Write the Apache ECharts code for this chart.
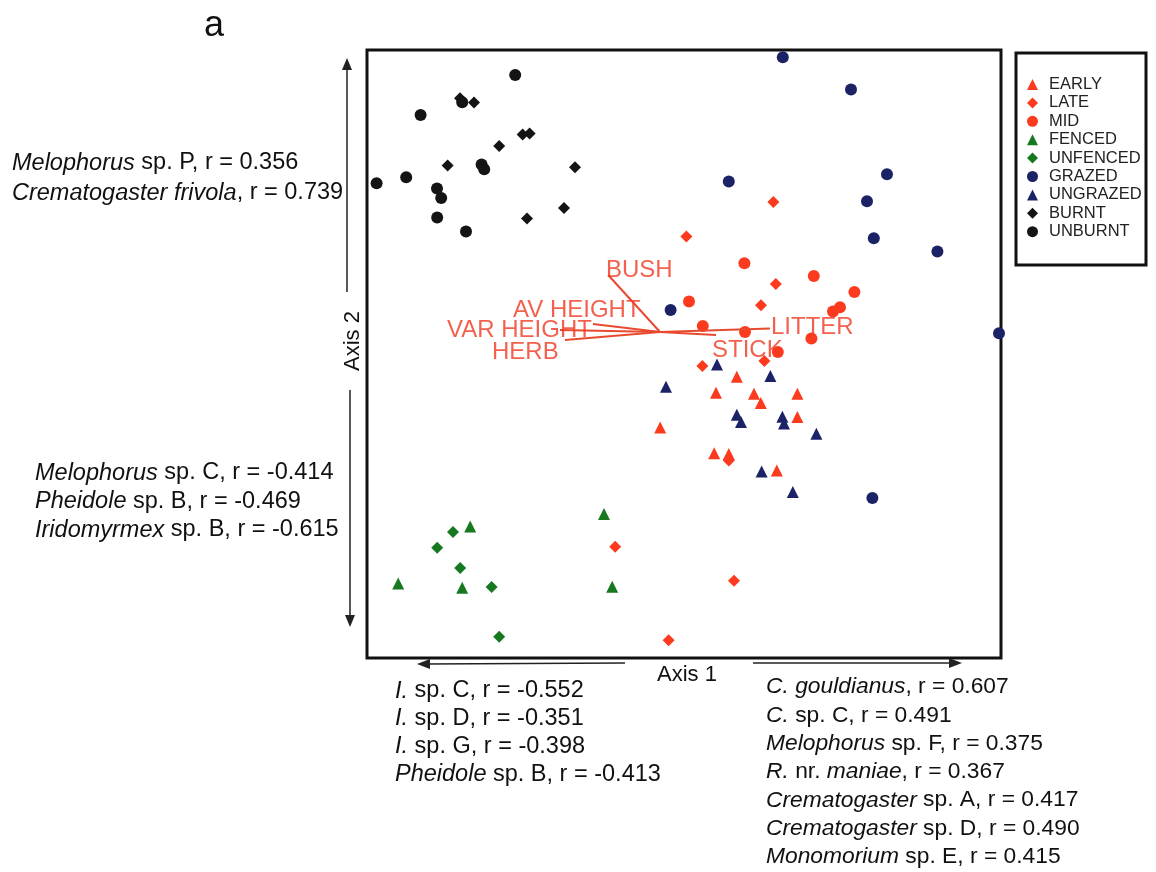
<!DOCTYPE html>
<html>
<head>
<meta charset="utf-8">
<script src="https://cdn.jsdelivr.net/npm/echarts@6/dist/echarts.min.js"></script>
<style>
html,body{margin:0;padding:0;background:#fff;}
#chart{width:1156px;height:872px;}
</style>
</head>
<body>
<div id="chart"></div>
<script>
// ---- group names (legend order) ----
const groupNames = ['EARLY','LATE','MID','FENCED','UNFENCED','GRAZED','UNGRAZED','BURNT','UNBURNT'];

// ---- ordination scores [Axis 1, Axis 2] ----
const earlyPts = [[0.264,-0.114],[0.160,-0.194],[0.350,-0.199],[0.384,-0.245],[0.567,-0.199],[0.567,-0.315],[-0.119,-0.367],[0.151,-0.496],[0.464,-0.582],[0.224,-0.500]];
const latePts = [[0.447,0.760],[0.012,0.587],[0.459,0.350],[0.385,0.244],[0.402,-0.035],[0.092,-0.060],[0.224,-0.533],[-0.344,-0.964],[0.250,-1.134],[-0.077,-1.431]];
const midPts = [[0.302,0.454],[0.649,0.390],[0.852,0.310],[0.025,0.262],[0.745,0.212],[0.780,0.234],[0.094,0.140],[0.305,0.110],[0.637,0.077],[0.469,0.010]];
const fencedPts = [[-0.400,-0.800],[-1.069,-0.862],[-1.429,-1.147],[-1.109,-1.169],[-0.359,-1.164]];
const unfencedPts = [[-1.155,-0.890],[-1.234,-0.969],[-1.119,-1.070],[-0.962,-1.165],[-0.924,-1.414]];
const grazedPts = [[0.494,1.484],[0.835,1.322],[0.224,0.862],[1.015,0.899],[0.915,0.764],[0.949,0.579],[1.267,0.513],[-0.067,0.220],[1.575,0.104],[0.942,-0.720]];
const ungrazedPts = [[0.165,-0.052],[0.432,-0.110],[-0.090,-0.164],[0.264,-0.304],[0.285,-0.340],[0.492,-0.314],[0.500,-0.347],[0.662,-0.399],[0.388,-0.588],[0.544,-0.690]];
const burntPts = [[-1.120,1.279],[-1.050,1.257],[-0.807,1.097],[-0.772,1.102],[-0.924,1.040],[-1.182,0.942],[-0.545,0.934],[-0.600,0.730],[-0.785,0.677]];
const unburntPts = [[-0.844,1.395],[-1.109,1.259],[-1.317,1.195],[-1.012,0.947],[-0.999,0.924],[-1.537,0.854],[-1.389,0.884],[-1.235,0.827],[-1.214,0.780],[-1.234,0.682],[-1.090,0.612]];

// ---- environmental vectors ----
const vectorOrigin = [-0.120, 0.110];
const vectorNames = ['BUSH','AV HEIGHT','VAR HEIGHT','HERB','LITTER','STICK'];
const vectorEnds = [[-0.379,0.395],[-0.455,0.150],[-0.620,0.120],[-0.595,0.070],[0.430,0.128],[0.160,0.095]];
const vectorLabelPos = [[-0.390,0.420],[-0.855,0.220],[-1.185,0.120],[-0.960,0.010],[0.435,0.135],[0.140,0.020]];

// ---- species correlation annotations (*italic*) ----
const axis2PosSpecies = ['*Melophorus* sp. P, r = 0.356','*Crematogaster frivola*, r = 0.739'];
const axis2NegSpecies = ['*Melophorus* sp. C, r = -0.414','*Pheidole* sp. B, r = -0.469','*Iridomyrmex* sp. B, r = -0.615'];
const axis1NegSpecies = ['*I.* sp. C, r = -0.552','*I.* sp. D, r = -0.351','*I.* sp. G, r = -0.398','*Pheidole* sp. B, r = -0.413'];
const axis1PosSpecies = ['*C. gouldianus*, r = 0.607','*C.* sp. C, r = 0.491','*Melophorus* sp. F, r = 0.375','*R.* nr. *maniae*, r = 0.367','*Crematogaster* sp. A, r = 0.417','*Crematogaster* sp. D, r = 0.490','*Monomorium* sp. E, r = 0.415'];

const FONT = "'Liberation Sans', Arial, Helvetica, sans-serif";
const RED = '#fb3a1e', GREEN = '#17791f', NAVY = '#1b2266', BLACK = '#141414';
const VEC = '#e84a30';

const groupData = [earlyPts, latePts, midPts, fencedPts, unfencedPts, grazedPts, ungrazedPts, burntPts, unburntPts];
const groupSymbols = ['triangle','diamond','circle','triangle','diamond','circle','triangle','diamond','circle'];
const groupColors = [RED, RED, RED, GREEN, GREEN, NAVY, NAVY, BLACK, BLACK];
const symSize = {triangle: 12, diamond: 12, circle: 12};

function toRich(s){
  return s.split('*').map((seg,i)=> seg ? (i%2 ? '{i|'+seg+'}' : '{n|'+seg+'}') : '').join('');
}
const richStyles = (size)=>({
  i:{fontFamily:FONT, fontSize:size, fontStyle:'italic', fill:'#111'},
  n:{fontFamily:FONT, fontSize:size, fill:'#111'}
});

function textBlock(lines, x, y0, dy, size){
  return lines.map((t,k)=>({
    type:'text', x: x, y: y0 + k*dy,
    style:{text: toRich(t), rich: richStyles(size), fontFamily: FONT, fontSize: size, fill:'#111', align:'left', verticalAlign:'middle'}
  }));
}

const chart = echarts.init(document.getElementById('chart'), null, {renderer:'canvas'});

const series = groupNames.map((name, i)=>({
  name: name,
  type: 'scatter',
  data: groupData[i],
  symbol: groupSymbols[i],
  symbolSize: symSize[groupSymbols[i]],
  itemStyle: {color: groupColors[i], opacity: 1},
  z: 2
}));

series.push({
  type: 'lines',
  coordinateSystem: 'cartesian2d',
  data: vectorEnds.map(e=>({coords:[vectorOrigin, e]})),
  lineStyle: {color: VEC, width: 2, opacity: 1},
  silent: true,
  z: 3
});
series.push({
  type: 'scatter',
  data: vectorLabelPos.map((p,i)=>({name: vectorNames[i], value: p})),
  symbolSize: 0,
  silent: true,
  label: {show: true, position: 'right', distance: 0, formatter: '{b}', color: '#f03a22', fontSize: 24, fontFamily: FONT},
  z: 4
});

const graphics = [
  // legend frame
  {type:'rect', shape:{x:1016, y:53, width:130, height:212}, style:{fill:'none', stroke:'#111', lineWidth:3}, z:10},
  // Axis 2 arrow
  {type:'line', shape:{x1:347, y1:66, x2:347, y2:292}, style:{stroke:'#222', lineWidth:1.5}},
  {type:'polygon', shape:{points:[[347,58],[342,70],[352,70]]}, style:{fill:'#222'}},
  {type:'line', shape:{x1:350, y1:390, x2:350, y2:618}, style:{stroke:'#222', lineWidth:1.5}},
  {type:'polygon', shape:{points:[[350,627],[345,615],[355,615]]}, style:{fill:'#222'}},
  // Axis 1 arrow
  {type:'line', shape:{x1:426, y1:664, x2:625, y2:663}, style:{stroke:'#222', lineWidth:1.5}},
  {type:'polygon', shape:{points:[[417,664],[430,659],[430,669]]}, style:{fill:'#222'}},
  {type:'line', shape:{x1:753, y1:663, x2:952, y2:663}, style:{stroke:'#222', lineWidth:1.5}},
  {type:'polygon', shape:{points:[[962,663],[949,658],[949,668]]}, style:{fill:'#222'}},
  // axis titles
  {type:'text', x:687, y:675, style:{text:'Axis 1', fontFamily:FONT, fontSize:22, fill:'#111', align:'center', verticalAlign:'middle'}},
  {type:'text', x:353, y:341, rotation:Math.PI/2, style:{text:'Axis 2', fontFamily:FONT, fontSize:22, fill:'#111', align:'center', verticalAlign:'middle'}}
].concat(
  textBlock(axis2PosSpecies, 12, 163, 30, 23.5),
  textBlock(axis2NegSpecies, 35, 473, 28.5, 23.5),
  textBlock(axis1NegSpecies, 395, 691, 27.7, 23.5),
  textBlock(axis1PosSpecies, 766, 687, 28.3, 22.8)
);

chart.setOption({
  animation: false,
  backgroundColor: '#fff',
  title: {text: 'a', left: 199, top: 3, textStyle: {fontSize: 36, fontWeight: 'normal', fontFamily: FONT, color: '#111'}},
  grid: {left: 367, top: 50, width: 634, height: 608, show: true, borderColor: '#111', borderWidth: 3, backgroundColor: 'transparent'},
  xAxis: {type: 'value', min: -1.585, max: 1.585, show: false},
  yAxis: {type: 'value', min: -1.52, max: 1.52, show: false},
  legend: {
    data: groupNames, orient: 'vertical', left: 1027, top: 76,
    itemWidth: 11, itemHeight: 11, itemGap: 1.4, padding: 0,
    symbolKeepAspect: true,
    textStyle: {fontSize: 16.5, fontFamily: FONT, color: '#222', padding: [0,0,0,6]},
    selectedMode: false
  },
  graphic: graphics,
  series: series
});
</script>
</body>
</html>
